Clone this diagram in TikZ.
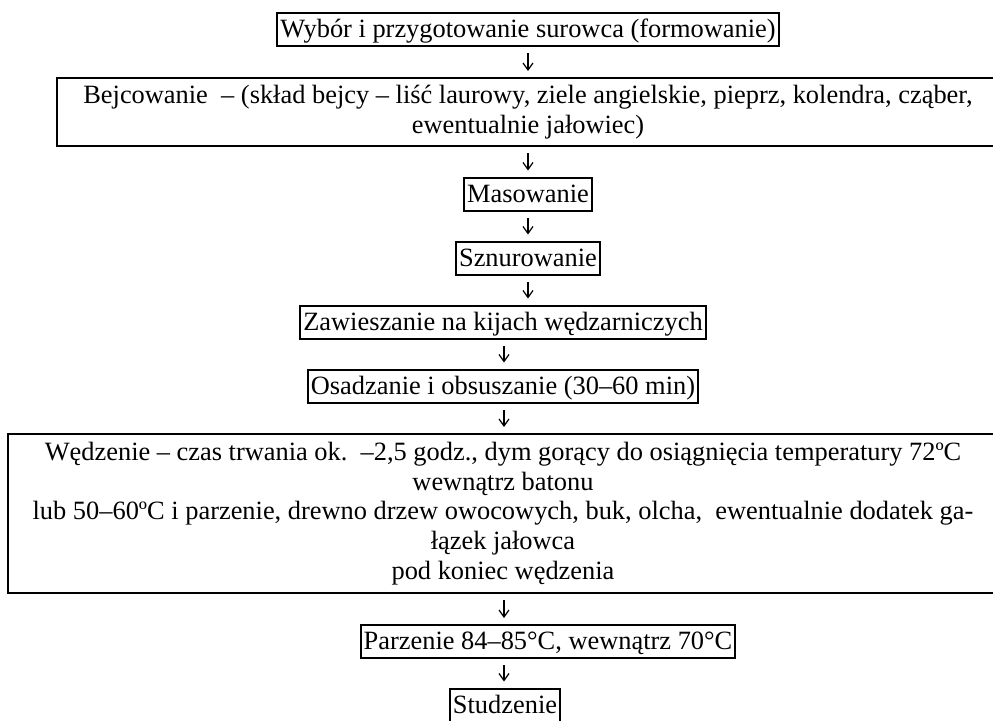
\documentclass[tikz,border=0pt]{standalone}
\usepackage{fontspec}
\setmainfont{Liberation Serif}
\usetikzlibrary{arrows.meta}
\tikzset{
  stepbox/.style={draw, line width=1pt, inner xsep=1.5pt, inner ysep=0.75pt, text height=11.6pt, text depth=3.4pt},
  bigbox/.style={draw, line width=1pt, align=center, inner sep=0pt},
  flow/.style={-{Straight Barb[length=3.5pt,width=5pt]}, line width=0.6pt, shorten <=3pt, shorten >=3pt}
}
\begin{document}
\frenchspacing
\begin{tikzpicture}[x=0.5pt,y=-0.5pt,font=\fontsize{13.2}{14.8}\selectfont]
\useasboundingbox (0,0) rectangle (993,720);
\coordinate (ax1) at (528,0);
\coordinate (ax2) at (504,0);
\node[stepbox] (wybor) at (528,29.5) {Wybór i przygotowanie surowca (formowanie)};
\node[bigbox, minimum width=471pt, minimum height=34pt] (bejc) at (528,112)
  {Bejcowanie\ \ – (skład bejcy – liść laurowy, ziele angielskie, pieprz, kolendra, cząber,\\ewentualnie jałowiec)};
\node[stepbox] (mas) at (528,194) {Masowanie};
\node[stepbox] (sznur) at (528,258) {Sznurowanie};
\node[stepbox] (zaw) at (503,322) {Zawieszanie na kijach wędzarniczych};
\node[stepbox] (osad) at (503,386) {Osadzanie i obsuszanie (30–60 min)};
\node[bigbox, minimum width=495pt, minimum height=79.5pt] (wedz) at (503,513.5)
  {Wędzenie – czas trwania ok.\ \ –2,5 godz., dym gorący do osiągnięcia temperatury 72ºC\\
   wewnątrz batonu\\
   lub 50–60ºC i parzenie, drewno drzew owocowych, buk, olcha,\ \ ewentualnie dodatek ga-\\
   łązek jałowca\\
   pod koniec wędzenia};
\node[stepbox] (parz) at (548,641.5) {Parzenie 84–85°C, wewnątrz 70°C};
\node[stepbox] (stud) at (505,705) {Studzenie};
%arrows
\draw[flow] (wybor.south -| ax1) -- (bejc.north -| ax1);
\draw[flow] (bejc.south -| ax1) -- (mas.north -| ax1);
\draw[flow] (mas.south -| ax1) -- (sznur.north -| ax1);
\draw[flow] (sznur.south -| ax1) -- (zaw.north -| ax1);
\draw[flow] (zaw.south -| ax2) -- (osad.north -| ax2);
\draw[flow] (osad.south -| ax2) -- (wedz.north -| ax2);
\draw[flow] (wedz.south -| ax2) -- (parz.north -| ax2);
\draw[flow] (parz.south -| ax2) -- (stud.north -| ax2);
\end{tikzpicture}
\end{document}
